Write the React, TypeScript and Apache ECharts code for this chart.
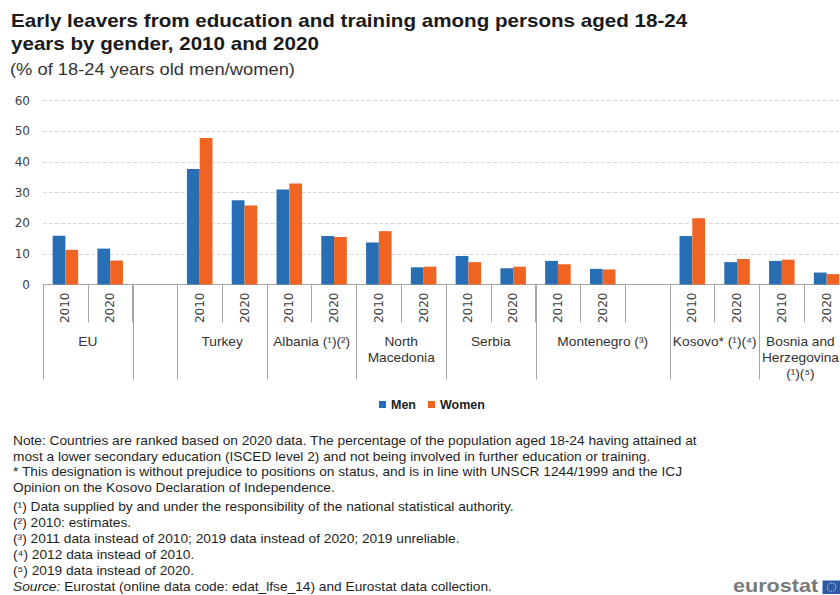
import React, { useEffect, useRef } from "react";
import * as echarts from "echarts";

// ---------- data ----------
const groupLabels = [
  "EU",
  "",
  "Turkey",
  "Albania (¹)(²)",
  "North\nMacedonia",
  "Serbia",
  "Montenegro (³)",
  "Kosovo* (¹)(⁴)",
  "Bosnia and\nHerzegovina\n(¹)(⁵)",
];
const groupSizes = [2, 1, 2, 2, 2, 2, 3, 2, 2];
const yearLabels = [
  "2010", "2020", "",
  "2010", "2020",
  "2010", "2020",
  "2010", "2020",
  "2010", "2020",
  "2010", "2020", "",
  "2010", "2020",
  "2010", "2020",
];
const men = [15.9, 11.7, null, 37.7, 27.5, 31.0, 15.8, 13.7, 5.6, 9.3, 5.3, 7.7, 5.1, null, 15.8, 7.3, 7.7, 3.9];
const women = [11.3, 7.8, null, 47.8, 25.8, 32.9, 15.5, 17.4, 5.8, 7.3, 5.8, 6.6, 4.9, null, 21.6, 8.3, 8.1, 3.4];
const seriesNames = ["Men", "Women"];
const yTicks = { min: 0, max: 60, interval: 10 };

const titleText = "Early leavers from education and training among persons aged 18-24\nyears by gender, 2010 and 2020";
const subtitleText = "(% of 18-24 years old men/women)";
const noteLines = [
  "Note: Countries are ranked based on 2020 data. The percentage of the population aged 18-24 having attained at",
  "most a lower secondary education (ISCED level 2) and not being involved in further education or training.",
  "* This designation is without prejudice to positions on status, and is in line with UNSCR 1244/1999 and the ICJ",
  "Opinion on the Kosovo Declaration of Independence.",
  "(¹) Data supplied by and under the responsibility of the national statistical authority.",
  "(²) 2010: estimates.",
  "(³) 2011 data instead of 2010; 2019 data instead of 2020; 2019 unreliable.",
  "(⁴) 2012 data instead of 2010.",
  "(⁵) 2019 data instead of 2020.",
];
const sourceText = "{i|Source:} Eurostat (online data code: edat_lfse_14) and Eurostat data collection.";
const logoText = "eurostat";

// ---------- styles ----------
const FONT = "'Liberation Sans', Arial, Helvetica, sans-serif";
const NUMFONT = "'DejaVu Sans', 'Liberation Sans', sans-serif";
const SX = 1.145;
const BLUE = "#286EB4";
const ORANGE = "#F06423";
const GRAY = "#a6a6a6";
const W = 840;

const slotKeys = yearLabels.map((y, i) => `s${i}-${y}`);

function text(t: string, x: number, y: number, size: number, extra: any = {}) {
  const { align = "left", vAlign = "middle", weight = "normal", fill = "#222", lineHeight, rich, scale = SX } = extra;
  return {
    type: "text",
    x,
    y,
    scaleX: scale,
    silent: true,
    style: {
      text: t,
      x: 0,
      y: 0,
      fontFamily: FONT,
      fontSize: size,
      fontWeight: weight,
      fill,
      align,
      verticalAlign: vAlign,
      textAlign: align,
      textVerticalAlign: vAlign,
      lineHeight,
      rich,
    },
  };
}

function measure(t: string, size: number): number {
  const c = document.createElement("canvas");
  const ctx = c.getContext("2d");
  if (!ctx) return t.length * size * 0.55;
  ctx.font = `${size}px ${FONT}`;
  return Math.max(...t.split("\n").map((l) => ctx.measureText(l).width));
}

export default function App() {
  const ref = useRef<HTMLDivElement>(null);

  useEffect(() => {
    document.body.style.margin = "0";
    const el = ref.current!;
    const chart = echarts.init(el, null, { renderer: "svg", width: 840, height: 595 });

    const option: any = {
      animation: false,
      backgroundColor: "#ffffff",
      color: [BLUE, ORANGE],
      grid: {
        left: 43,
        width: 806,
        top: 100.5,
        height: 184,
        containLabel: false,
        outerBoundsMode: "none",
      },
      legend: {
        data: seriesNames,
        left: 379,
        top: 398,
        padding: 0,
        icon: "rect",
        itemWidth: 7,
        itemHeight: 7,
        itemGap: 12,
        textStyle: { fontFamily: FONT, fontSize: 12.5, fontWeight: "bold", color: "#222" },
      },
      xAxis: {
        type: "category",
        data: slotKeys,
        axisLine: { show: true, lineStyle: { color: GRAY, width: 1 } },
        axisTick: { show: true, interval: 0, length: 38, lineStyle: { color: GRAY, width: 1 } },
        axisLabel: {
          interval: 0,
          rotate: 90,
          margin: 8,
          fontFamily: NUMFONT,
          fontSize: 12,
          color: "#404040",
          formatter: (_v: string, i: number) => yearLabels[i],
        },
        splitLine: { show: false },
      },
      yAxis: {
        type: "value",
        min: yTicks.min,
        max: yTicks.max,
        interval: yTicks.interval,
        axisLine: { show: false },
        axisTick: { show: false },
        axisLabel: { margin: 13, fontFamily: NUMFONT, fontSize: 12, color: "#404040" },
        splitLine: { show: true, lineStyle: { color: "#d9d9d9", type: [4, 2], width: 1 } },
      },
      series: [
        {
          name: seriesNames[0],
          type: "bar",
          data: men,
          barGap: "0%",
          barCategoryGap: "43%",
          itemStyle: { color: BLUE },
        },
        {
          name: seriesNames[1],
          type: "bar",
          data: women,
          barGap: "0%",
          barCategoryGap: "43%",
          itemStyle: { color: ORANGE },
        },
      ],
    };
    chart.setOption(option);

    const c0 = chart.convertToPixel({ xAxisIndex: 0 }, 0) as number;
    const c1 = chart.convertToPixel({ xAxisIndex: 0 }, 1) as number;
    const slot = c1 - c0;
    const axisY = chart.convertToPixel({ yAxisIndex: 0 }, 0) as number;
    const elements: any[] = [];

    // title & subtitle
    elements.push(text(titleText, 11, 8.5, 18, { weight: "bold", vAlign: "top", lineHeight: 23.5, fill: "#1a1a1a" }));
    elements.push(text(subtitleText, 10, 69.4, 16, { fill: "#333" }));

    // group separators and labels
    let start = 0;
    const bounds: number[] = [0];
    groupSizes.forEach((n) => {
      start += n;
      bounds.push(start);
    });
    bounds.forEach((b) => {
      const last = b >= slotKeys.length;
      const center = chart.convertToPixel({ xAxisIndex: 0 }, last ? slotKeys.length - 1 : b) as number;
      const px = Math.round(center + (last ? slot / 2 : -slot / 2)) + 0.5;
      elements.push({
        type: "line",
        silent: true,
        shape: { x1: px, y1: axisY, x2: px, y2: axisY + 95 },
        style: { stroke: GRAY, lineWidth: 1 },
      });
    });
    groupLabels.forEach((lab, gi) => {
      if (!lab) return;
      const a = bounds[gi];
      const b = bounds[gi + 1];
      const ca = chart.convertToPixel({ xAxisIndex: 0 }, a) as number;
      const cb = chart.convertToPixel({ xAxisIndex: 0 }, b - 1) as number;
      const half = (measure(lab, 12) * SX) / 2;
      const cx = Math.min((ca + cb) / 2, W - 1 - half);
      elements.push(text(lab, cx, axisY + 49, 12, { align: "center", vAlign: "top", lineHeight: 16, fill: "#333" }));
    });

    // notes
    const noteYs = [440.5, 456.5, 472.3, 488.3, 507, 522.5, 538.5, 554.5, 570.5];
    noteLines.forEach((l, i) => elements.push(text(l, 13, noteYs[i], 12, { fill: "#1f1f1f" })));
    elements.push(
      text(sourceText, 13, 587, 12, {
        fill: "#1f1f1f",
        rich: { i: { fontStyle: "italic", fontFamily: FONT, fontSize: 12, fill: "#1f1f1f" } },
      })
    );

    // eurostat logo
    elements.push(text(logoText, 733, 594.5, 18, { weight: "bold", fill: "#7a7a7a", vAlign: "bottom", scale: 1.2 }));
    elements.push({
      type: "rect",
      silent: true,
      shape: { x: 822.5, y: 580.5, width: 20, height: 13.5 },
      style: { fill: "#2c5aa8" },
    });
    for (let k = 0; k < 12; k++) {
      const ang = (k / 12) * Math.PI * 2;
      elements.push({
        type: "circle",
        silent: true,
        shape: { cx: 831.5 + 4.3 * Math.cos(ang), cy: 587.2 + 4.3 * Math.sin(ang), r: 0.6 },
        style: { fill: "#f5d33a" },
      });
    }

    chart.setOption({ graphic: { elements } });

    return () => chart.dispose();
  }, []);

  return (
    <div
      ref={ref}
      style={{ position: "fixed", left: 0, top: 0, width: 840, height: 595, background: "#fff" }}
    />
  );
}
